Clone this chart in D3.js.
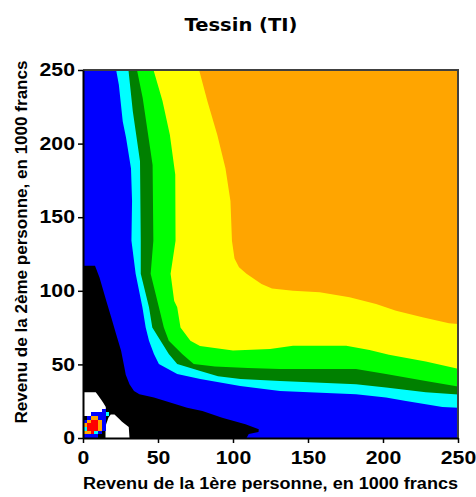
<!DOCTYPE html>
<html><head><meta charset="utf-8">
<script src="https://cdn.jsdelivr.net/npm/d3@7"></script>
<style>
html,body{margin:0;padding:0;background:#fff;}
svg{display:block;}
</style></head>
<body>
<svg id="chart" width="476" height="497"></svg>
<script>
// ---- data (values in 1000 francs) ----
const titleText = "Tessin (TI)";
const xLabel = "Revenu de la 1ère personne, en 1000 francs";
const yLabel = "Revenu de la 2ème personne, en 1000 francs";
const xTicks = [0, 50, 100, 150, 200, 250];
const yTicks = [0, 50, 100, 150, 200, 250];
const domainMax = 250;

// region colors, from outermost to innermost
const regionNames = ["orange", "yellow", "green", "darkgreen", "cyan", "blue", "black"];
const regionColors = ["#FFA500", "#FFFF00", "#00FF00", "#008000", "#00FFFF", "#0000FF", "#000000"];

// boundary of each region (region lies on the origin side), from top edge to right edge
const yellowEdge = [[77.4,250],[82.9,229],[89.5,206],[95,183],[98.3,161],[99.3,134],[101,122],[104,116],[109,111.5],[119,104.7],[126,101.5],[140,100],[157.8,99],[177.7,95.6],[195.4,91],[208.7,86.5],[226.3,82],[244,78],[250,77.5]];
const greenEdge = [[47,250],[53,229],[57.9,206],[61.5,179],[61.7,134],[58.4,111.5],[60.8,93],[62.8,88.8],[65,75.1],[71.6,66.1],[78,62.5],[100,59.5],[124.7,60.4],[140,62.7],[175.5,62.7],[191,59.7],[204,56.5],[228.5,52],[250,47]];
const darkGreenEdge = [[36,250],[39.8,231],[46.4,185.5],[46.9,134],[45.1,111.5],[50.6,88.8],[53.9,75.1],[57.2,66.1],[66.1,57],[73.8,50.2],[88,48.5],[110,47.5],[131.3,46.8],[182,46.8],[202,43.4],[228.5,38.8],[250,35]];
const cyanEdge = [[30.3,250],[33.2,222],[38,188],[38.5,134],[38.5,111.5],[44,88.8],[46.2,75.1],[51.7,66.1],[57.2,57],[62.8,50.2],[78.2,45.6],[90,42],[105,40],[131.3,38.8],[182,36.6],[202,34.3],[228.5,31],[250,29.5]];
const blueEdge = [[22.1,250],[23.9,240],[26.5,215],[28.7,204],[32,183],[32.7,161],[32.3,134],[35.1,111.5],[39.6,88.8],[41.8,75.1],[44,66.1],[47.3,57],[50.6,50.2],[62.8,43.4],[78.2,40],[104.8,35.4],[131.3,32],[182,29.8],[202,27.5],[215.3,25.2],[228.5,23],[239.6,21.1],[250,20.5]];
// black region: from left edge to bottom edge
const blackEdge = [[0,117],[8,117],[11,109],[15.5,93.3],[18.8,82],[22,70.8],[25.4,59.3],[27.6,47.9],[28.5,43],[31,36.6],[34,32],[37.6,29.8],[47.3,27.5],[61.9,22.9],[69.4,20.6],[79.6,18.4],[92.8,13.8],[108.3,9.3],[117.2,5.9],[117,4],[110.5,2.7],[109,0]];
// white islands inside the black region
const whiteLeft = [[0,31],[8.5,31],[10,29],[11.9,26.3],[13.5,24],[15.2,21],[15.2,18],[12.5,17.5],[5,15],[0,15]];
const whiteRight = [[17,14],[18.5,16],[21,16],[24,13],[26,11],[30.5,7.5],[31,0],[15,0],[15,8],[16,11]];

// small blob of cells near the origin (cell size 2.5), [column, row, colour code]
const cellSize = 2.5;
const blobCells = [
  [2,6,"B"],[3,6,"B"],[4,6,"B"],[5,6,"B"],[5,7,"B"],[6,6,"C"],
  [1,5,"B"],[2,5,"O"],[3,5,"O"],[4,5,"B"],[5,5,"B"],
  [0,4,"B"],[1,4,"O"],[2,4,"R"],[3,4,"R"],[4,4,"O"],[5,4,"B"],
  [0,3,"O"],[1,3,"R"],[2,3,"R"],[3,3,"R"],[4,3,"O"],[5,3,"B"],
  [0,2,"C"],[1,2,"R"],[2,2,"R"],[3,2,"R"],[4,2,"O"],[5,2,"B"],
  [0,1,"O"],[1,1,"O"],[2,1,"R"],[3,1,"C"],[4,1,"B"],
  [0,0,"B"],[1,0,"B"],[2,0,"B"],[3,0,"B"]
];
const blobColors = {B:"#0000FF", C:"#00FFFF", O:"#FFA500", R:"#FF0000"};

// ---- layout ----
const svg = d3.select("#chart");
const L = 83, T = 70, R = 458, B = 438;
const x = d3.scaleLinear().domain([0, domainMax]).range([L, R]);
const y = d3.scaleLinear().domain([0, domainMax]).range([B, T]);

svg.append("defs").append("clipPath").attr("id","plotclip")
  .append("rect").attr("x",L).attr("y",T).attr("width",R-L).attr("height",B-T);

const g = svg.append("g").attr("clip-path","url(#plotclip)");
const line = d3.line().x(d=>x(d[0])).y(d=>y(d[1]));

// base orange fill
g.append("path")
  .attr("d", line([[0,0],[domainMax,0],[domainMax,domainMax],[0,domainMax]]) + "Z")
  .attr("fill", regionColors[0]);

const edges = [yellowEdge, greenEdge, darkGreenEdge, cyanEdge, blueEdge];
edges.forEach((edge, i) => {
  const poly = edge.concat([[domainMax,0],[0,0],[0,domainMax]]);
  g.append("path").attr("d", line(poly) + "Z").attr("fill", regionColors[i+1]);
});
g.append("path").attr("d", line(blackEdge.concat([[0,0]])) + "Z").attr("fill", regionColors[6]);
[whiteLeft, whiteRight].forEach(p => {
  g.append("path").attr("d", line(p) + "Z").attr("fill", "#FFFFFF");
});
g.selectAll("rect.cell").data(blobCells).join("rect").attr("class","cell")
  .attr("x", d => x(d[0]*cellSize))
  .attr("y", d => y((d[1]+1)*cellSize))
  .attr("width", d => x((d[0]+1)*cellSize) - x(d[0]*cellSize))
  .attr("height", d => y(d[1]*cellSize) - y((d[1]+1)*cellSize))
  .attr("fill", d => blobColors[d[2]])
  .attr("shape-rendering","crispEdges");

// frame (top and right)
svg.append("path")
  .attr("d", `M${L},${T}H${R}V${B}`)
  .attr("fill","none").attr("stroke","#404040").attr("stroke-width",2);

// axes
const fontTick = "Liberation Sans, Arial, sans-serif";
const yAxis = svg.append("g").attr("transform",`translate(${L},0)`)
  .call(d3.axisLeft(y).tickValues(yTicks).tickSize(5).tickPadding(3).tickSizeOuter(0));
const xAxis = svg.append("g").attr("transform",`translate(0,${B})`)
  .call(d3.axisBottom(x).tickValues(xTicks).tickSize(5).tickPadding(8).tickSizeOuter(0));
[xAxis, yAxis].forEach(a => {
  a.select(".domain").attr("stroke","#000").attr("stroke-width",2);
  a.selectAll(".tick line").attr("stroke","#000").attr("stroke-width",1.5);
  a.selectAll(".tick text").attr("fill","#000")
    .style("font-family", fontTick).style("font-weight","bold").style("font-size","18px");
});
[xAxis, yAxis].forEach(a => a.selectAll(".tick text").each(function(){
  const w = this.getComputedTextLength();
  d3.select(this).attr("textLength", w*1.18).attr("lengthAdjust","spacingAndGlyphs");
}));

// titles
svg.append("text").attr("x", 241).attr("y", 31).attr("text-anchor","middle")
  .style("font-family","DejaVu Sans, Verdana, sans-serif").style("font-weight","bold").style("font-size","18px")
  .attr("textLength", 113).attr("lengthAdjust","spacingAndGlyphs")
  .text(titleText);
svg.append("text").attr("x", (L+R)/2).attr("y", 489).attr("text-anchor","middle")
  .style("font-family", fontTick).style("font-weight","bold").style("font-size","16px")
  .attr("textLength", 375).attr("lengthAdjust","spacingAndGlyphs")
  .text(xLabel);
svg.append("text").attr("transform","translate(27,242) rotate(-90)").attr("text-anchor","middle")
  .style("font-family", fontTick).style("font-weight","bold").style("font-size","16px")
  .attr("textLength", 363).attr("lengthAdjust","spacingAndGlyphs")
  .text(yLabel);
</script>
</body></html>
